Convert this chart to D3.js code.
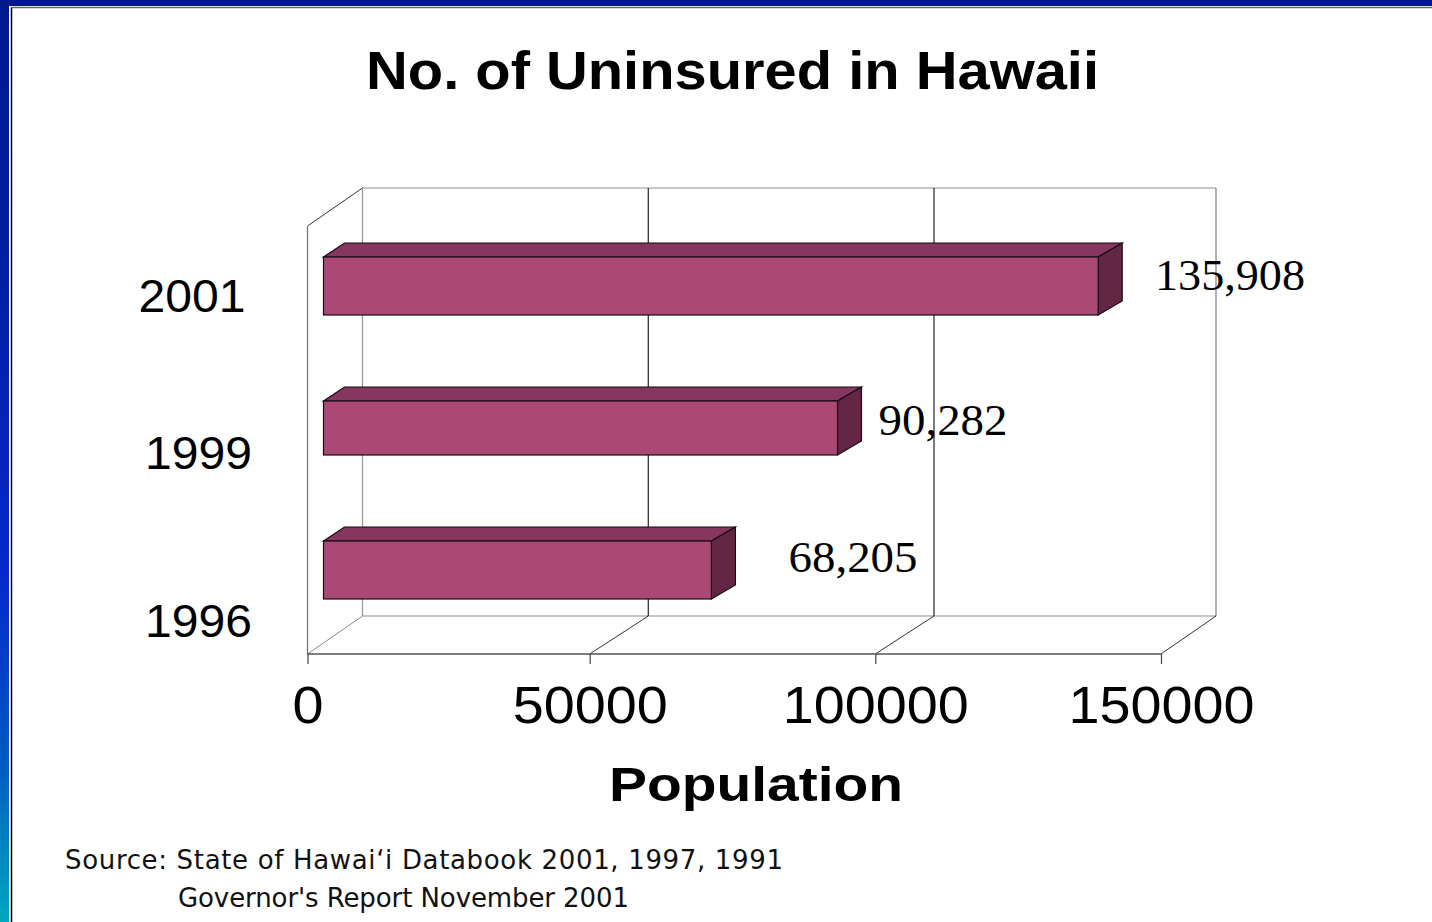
<!DOCTYPE html>
<html><head><meta charset="utf-8">
<script src="https://cdn.jsdelivr.net/npm/d3@7"></script>
<style>html,body{margin:0;padding:0;background:#fff;overflow:hidden}svg{display:block}</style>
</head><body><svg id="c" width="1432" height="922"></svg>
<script>
const categories = ["1996", "1999", "2001"];
const values = [68205, 90282, 135908];
const valueLabels = ["68,205", "90,282", "135,908"];
const xTicks = [0, 50000, 100000, 150000];
const titleText = "No. of Uninsured in Hawaii";
const xTitleText = "Population";
const sourceLines = ["Source: State of Hawai\u2018i Databook 2001, 1997, 1991", "Governor's Report November 2001"];

const svg = d3.select("#c");
const defs = svg.append("defs");
const grad = defs.append("linearGradient").attr("id","side").attr("x1",0).attr("x2",0).attr("y1",0).attr("y2",1);
[[0,"#001a8c"],[0.3,"#0020a0"],[0.62,"#0628cc"],[0.82,"#0058c0"],[1,"#00a8c0"]].forEach(s=>grad.append("stop").attr("offset",s[0]).attr("stop-color",s[1]));

svg.append("rect").attr("width",1432).attr("height",922).attr("fill","#fff");
svg.append("rect").attr("width",9).attr("height",922).attr("fill","url(#side)");
svg.append("rect").attr("width",1432).attr("height",6).attr("fill","#001a8c");
svg.append("line").attr("x1",11.5).attr("x2",11.5).attr("y1",7).attr("y2",922).attr("stroke","#000").attr("stroke-width",1.5);
svg.append("line").attr("x1",11).attr("x2",1432).attr("y1",7.5).attr("y2",7.5).attr("stroke","#666").attr("stroke-width",1.5);

// front plane and back wall of the pseudo-3D frame
const x = d3.scaleLinear().domain(xTicks).range([307.5,589.7,875.3,1161]);
const xBack = d3.scaleLinear().domain(xTicks).range([362.5,648.3,934,1216]);
const floorY = 654, topY = 226, wallDy = -38;
const barDx = 24, barDy = -14, barStart = 16, barShift = 17.7;
const barTops = {"1996":541,"1999":401,"2001":257};
const barBottoms = {"1996":599,"1999":455,"2001":315};

const gridG = svg.append("g").attr("fill","none");
const lineW = 1.3;
gridG.append("line").attr("x1",xBack(0)).attr("x2",xBack(150000)).attr("y1",topY+wallDy).attr("y2",topY+wallDy).attr("stroke","#b5b5b5").attr("stroke-width",lineW);
gridG.append("line").attr("x1",xBack(0)).attr("x2",xBack(150000)).attr("y1",floorY+wallDy).attr("y2",floorY+wallDy).attr("stroke","#b5b5b5").attr("stroke-width",lineW);
gridG.append("line").attr("x1",x(0)).attr("x2",xBack(0)).attr("y1",topY).attr("y2",topY+wallDy).attr("stroke","#333");
gridG.append("line").attr("x1",x(0)).attr("x2",x(0)).attr("y1",topY).attr("y2",floorY).attr("stroke","#777").attr("stroke-width",lineW);
xTicks.forEach(t=>{
  const c = (t===50000||t===100000) ? "#333" : (t===0 ? "#999" : "#888");
  gridG.append("line").attr("x1",xBack(t)).attr("x2",xBack(t)).attr("y1",topY+wallDy).attr("y2",floorY+wallDy).attr("stroke",c).attr("stroke-width",lineW);
  gridG.append("line").attr("x1",x(t)).attr("x2",xBack(t)).attr("y1",floorY).attr("y2",floorY+wallDy).attr("stroke",t===0?"#888":"#333");
});
const axisG = svg.append("g").attr("transform",`translate(0,${floorY})`)
  .call(d3.axisBottom(x).tickValues(xTicks).tickSize(10).tickPadding(20).tickFormat(d3.format("d")));
axisG.select(".domain").attr("d",`M${x(0)},0H${x(150000)}`).attr("stroke","#555").attr("stroke-width",1.4);
axisG.selectAll(".tick line").attr("stroke","#444").attr("stroke-width",1.2);
axisG.selectAll("text").attr("font-family","Liberation Sans").attr("font-size",51).attr("fill","#000")
  .attr("y",69).attr("dy",0)
  .attr("textLength",d=>String(d).length*31).attr("lengthAdjust","spacingAndGlyphs");

const barG = svg.append("g").selectAll("g").data(categories).join("g");
barG.each(function(c,i){
  const g = d3.select(this), x0 = x(0)+barStart, x1 = x(values[i])+barShift, t = barTops[c], b = barBottoms[c];
  const sc = "#1a0a14", sw = 1.2;
  g.append("polygon").attr("points",[[x0,t],[x0+barDx-3,t+barDy],[x1+barDx,t+barDy],[x1,t]].join(" ")).attr("fill","#85375f").attr("stroke",sc).attr("stroke-width",sw);
  g.append("polygon").attr("points",[[x1,t],[x1+barDx,t+barDy],[x1+barDx,b+barDy],[x1,b]].join(" ")).attr("fill","#632645").attr("stroke",sc).attr("stroke-width",sw);
  g.append("rect").attr("x",x0).attr("y",t).attr("width",x1-x0).attr("height",b-t).attr("fill","#aa4876").attr("stroke",sc).attr("stroke-width",sw);
});

function txt(str,px,py,size,o={}){
  const s = svg.append("text").text(str).attr("x",px).attr("y",py).attr("font-size",size)
    .attr("font-family",o.f||"Liberation Sans").attr("font-weight",o.w||"normal").attr("text-anchor",o.a||"middle").attr("fill",o.c||"#000");
  if(o.len) s.attr("textLength",o.len).attr("lengthAdjust",o.adj||"spacingAndGlyphs");
  return s;
}
txt(titleText,732.5,89,53,{w:"bold",len:733});
txt(xTitleText,756,801,48.5,{w:"bold",len:294});
const catX = {"1996":198.5,"1999":198.5,"2001":192}, catY={"1996":636.5,"1999":469,"2001":312};
categories.forEach(c=>txt(c,catX[c],catY[c],47,{len:107}));
const lblX = {"1996":853,"1999":943,"2001":1230}, lblY={"1996":572,"1999":435,"2001":290};
const lblLen = {"1996":129,"1999":129,"2001":150};
categories.forEach((c,i)=>txt(valueLabels[i],lblX[c],lblY[c],44,{f:"Liberation Serif",len:lblLen[c]}));
txt(sourceLines[0],65,869,26,{a:"start",f:"DejaVu Sans",len:718,adj:"spacing",c:"#111"});
txt(sourceLines[1],178,907,26,{a:"start",f:"DejaVu Sans",len:451,adj:"spacing",c:"#111"});
</script></body></html>
